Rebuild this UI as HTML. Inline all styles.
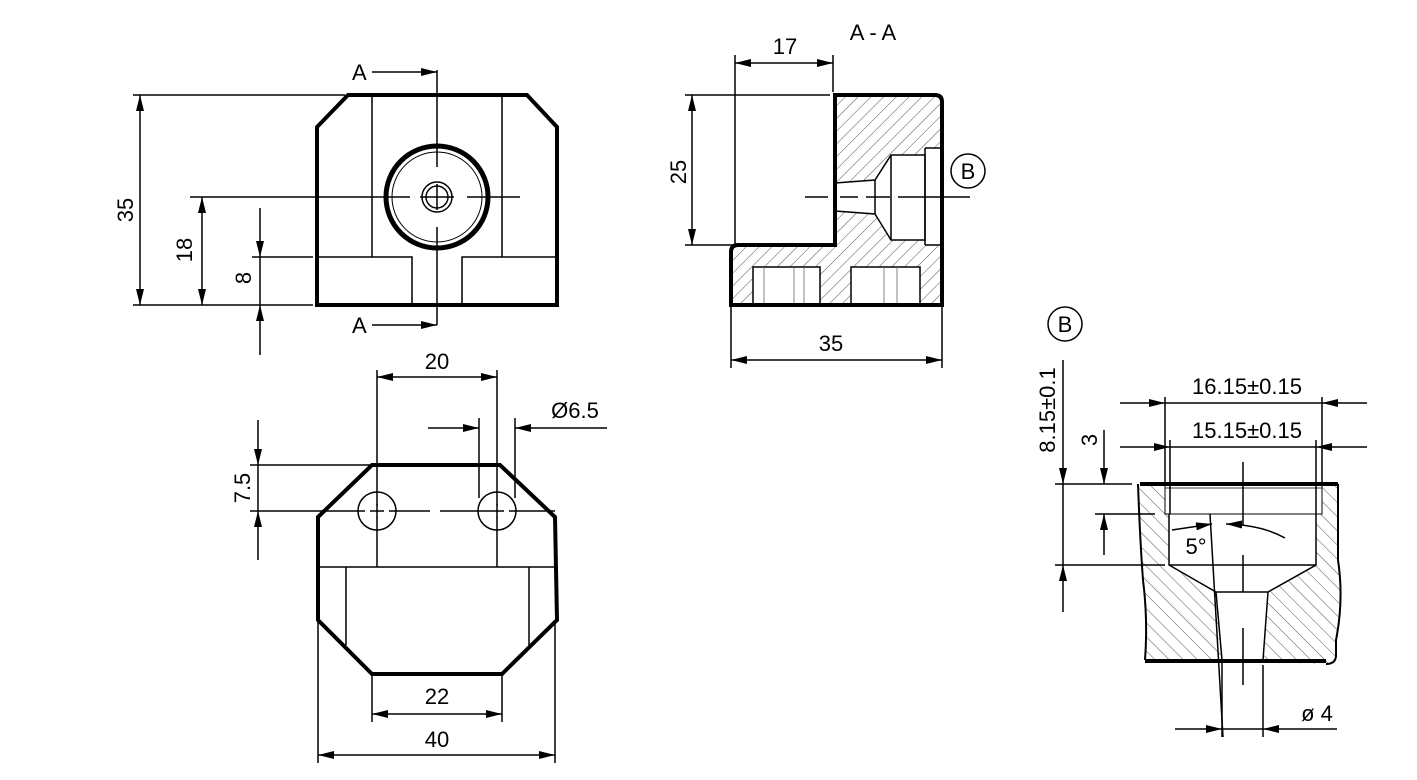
<!DOCTYPE html>
<html><head><meta charset="utf-8"><style>
html,body{margin:0;padding:0;background:#fff;}
svg{display:block;}
text{font-family:"Liberation Sans",sans-serif;font-size:22px;fill:#000;}
</style></head><body>
<svg width="1417" height="780" viewBox="0 0 1417 780" xmlns="http://www.w3.org/2000/svg">
<defs>
<marker id="a" viewBox="0 0 16 8" refX="16" refY="4" markerWidth="16" markerHeight="8" markerUnits="userSpaceOnUse" orient="auto-start-reverse"><path d="M0,0 L16,4 L0,8 z" fill="#000"/></marker>
<pattern id="h1" patternUnits="userSpaceOnUse" width="9" height="9" patternTransform="rotate(45)"><line x1="0" y1="0" x2="0" y2="9" stroke="#555" stroke-width="1"/></pattern>
<pattern id="h2" patternUnits="userSpaceOnUse" width="10" height="10" patternTransform="rotate(-45)"><line x1="0" y1="0" x2="0" y2="10" stroke="#555" stroke-width="1"/></pattern>
</defs>
<g stroke="#000" fill="none" stroke-width="1.5">

<!-- TOP LEFT VIEW -->
<path d="M348,95 L527,95 L557,127 L557,305 L317,305 L317,127 Z" stroke-width="4"/>
<line x1="372" y1="95" x2="372" y2="257"/><line x1="502" y1="95" x2="502" y2="257"/>
<path d="M317,257 H412 V305 M557,257 H462 V305"/>
<circle cx="437" cy="197" r="51" stroke-width="5"/>
<circle cx="437" cy="197" r="45" stroke-width="1"/>
<circle cx="437" cy="197" r="15"/><circle cx="437" cy="197" r="11"/>
<line x1="437" y1="70" x2="437" y2="167"/><line x1="437" y1="227" x2="437" y2="325"/>
<line x1="437" y1="184" x2="437" y2="210"/>
<line x1="190" y1="197" x2="410" y2="197"/><line x1="420" y1="197" x2="454" y2="197"/><line x1="467" y1="197" x2="520" y2="197"/>
<line x1="372" y1="72" x2="437" y2="72" marker-end="url(#a)"/>
<line x1="372" y1="325" x2="437" y2="325" marker-end="url(#a)"/>
<line x1="133" y1="95" x2="345" y2="95"/><line x1="133" y1="305" x2="313" y2="305"/>
<line x1="140" y1="95" x2="140" y2="305" marker-start="url(#a)" marker-end="url(#a)"/>
<line x1="202" y1="197" x2="202" y2="305" marker-start="url(#a)" marker-end="url(#a)"/>
<line x1="252" y1="257" x2="313" y2="257"/>
<line x1="260" y1="208" x2="260" y2="257" marker-end="url(#a)"/>
<line x1="260" y1="355" x2="260" y2="305" marker-end="url(#a)"/>
<line x1="260" y1="257" x2="260" y2="305"/>

<!-- SECTION A-A -->
<path d="M835,95 L935,95 Q942,95 942,102 L942,305 L731,305 L731,252 Q731,245 738,245 L835,245 Z" fill="url(#h1)"/>
<path d="M835,183 L875,180 L891,155 L925,155 L925,148 L940,148 L940,245 L925,245 L925,240 L891,240 L875,214 L835,211 Z" fill="#fff" stroke="none"/>
<path d="M835,183 L875,180 L891,155 L925,155 L925,240 L891,240 L875,214 L835,211"/>
<path d="M925,148 L940,148 M925,245 L940,245 M925,148 V245 M891,155 V240 M875,180 V214"/>
<rect x="753" y="267" width="67" height="38" fill="#fff"/>
<rect x="851" y="267" width="69" height="38" fill="#fff"/>
<g stroke-width="0.8" stroke="#666"><line x1="764" y1="267" x2="764" y2="305"/><line x1="794" y1="267" x2="794" y2="305"/><line x1="804" y1="267" x2="804" y2="305"/><line x1="884" y1="267" x2="884" y2="305"/><line x1="897" y1="267" x2="897" y2="305"/></g>
<path d="M835,95 L935,95 Q942,95 942,102 L942,305 L731,305 L731,252 Q731,245 738,245 L835,245 Z" stroke-width="4"/>
<line x1="805" y1="197" x2="828" y2="197"/><line x1="840" y1="197" x2="858" y2="197"/><line x1="866" y1="197" x2="890" y2="197"/><line x1="898" y1="197" x2="970" y2="197"/>
<circle cx="968" cy="171" r="17"/>
<line x1="735" y1="55" x2="735" y2="245"/><line x1="833" y1="55" x2="833" y2="92"/>
<line x1="735" y1="63" x2="833" y2="63" marker-start="url(#a)" marker-end="url(#a)"/>
<line x1="685" y1="95" x2="830" y2="95"/><line x1="685" y1="245" x2="735" y2="245"/>
<line x1="692" y1="95" x2="692" y2="245" marker-start="url(#a)" marker-end="url(#a)"/>
<line x1="731" y1="305" x2="731" y2="368"/><line x1="942" y1="305" x2="942" y2="368"/>
<line x1="731" y1="360" x2="942" y2="360" marker-start="url(#a)" marker-end="url(#a)"/>

<!-- BOTTOM VIEW -->
<path d="M372,465 L500,465 L555,517 L557,620 L502,674 L372,674 L318,620 L318,517 Z" stroke-width="4"/>
<line x1="318" y1="567" x2="557" y2="567"/>
<line x1="346" y1="567" x2="346" y2="645"/><line x1="529" y1="567" x2="529" y2="645"/>
<circle cx="377" cy="511" r="19"/><circle cx="497" cy="511" r="19"/>
<line x1="300" y1="511" x2="365" y2="511"/><line x1="370" y1="511" x2="384" y2="511"/><line x1="389" y1="511" x2="430" y2="511"/><line x1="440" y1="511" x2="490" y2="511"/><line x1="490" y1="511" x2="504" y2="511"/><line x1="509" y1="511" x2="555" y2="511"/>
<line x1="377" y1="370" x2="377" y2="505"/><line x1="377" y1="504" x2="377" y2="518"/><line x1="377" y1="517" x2="377" y2="567"/>
<line x1="497" y1="370" x2="497" y2="505"/><line x1="497" y1="504" x2="497" y2="518"/><line x1="497" y1="517" x2="497" y2="567"/>
<line x1="377" y1="377" x2="497" y2="377" marker-start="url(#a)" marker-end="url(#a)"/>
<line x1="479" y1="418" x2="479" y2="498"/><line x1="515" y1="418" x2="515" y2="498"/>
<line x1="428" y1="428" x2="479" y2="428" marker-end="url(#a)"/>
<line x1="607" y1="428" x2="515" y2="428" marker-end="url(#a)"/>
<line x1="250" y1="465" x2="370" y2="465"/><line x1="250" y1="511" x2="300" y2="511"/>
<line x1="258" y1="420" x2="258" y2="465" marker-end="url(#a)"/>
<line x1="258" y1="560" x2="258" y2="511" marker-end="url(#a)"/>
<line x1="258" y1="465" x2="258" y2="511"/>
<line x1="372" y1="676" x2="372" y2="722"/><line x1="502" y1="676" x2="502" y2="722"/>
<line x1="372" y1="714" x2="502" y2="714" marker-start="url(#a)" marker-end="url(#a)"/>
<line x1="318" y1="622" x2="318" y2="763"/><line x1="555" y1="622" x2="555" y2="763"/>
<line x1="318" y1="755" x2="555" y2="755" marker-start="url(#a)" marker-end="url(#a)"/>

<!-- DETAIL B -->
<circle cx="1065" cy="324" r="17"/>
<path d="M1140,484 L1338,484 L1338,560 Q1344,600 1336,640 L1336,655 Q1336,664 1326,664 L1145,660 Q1148,620 1143,580 Q1140,540 1138,500 Z" fill="url(#h2)" stroke="none"/>
<path d="M1165,484 L1322,484 L1322,514 L1316,514 L1316,565 L1268,592 L1263,660 L1222,660 L1216,592 L1169,565 L1169,514 L1165,514 Z" fill="#fff" stroke="none"/>
<path d="M1138,484 Q1140,540 1143,580 Q1148,620 1145,660" stroke-width="2"/>
<path d="M1338,484 L1338,560 Q1344,600 1336,640 L1336,655 Q1336,664 1326,664" stroke-width="2"/>
<line x1="1140" y1="484" x2="1338" y2="484" stroke-width="4"/>
<line x1="1145" y1="661" x2="1326" y2="661" stroke-width="4"/>
<path d="M1165,484 V514 H1322 V484" stroke-width="1"/>
<line x1="1165" y1="488" x2="1322" y2="488" stroke-width="0.8"/>
<path d="M1169,514 V565 L1216,592 H1268 L1316,565 V514"/>
<line x1="1169" y1="565" x2="1316" y2="565"/>
<path d="M1216,592 L1222,660 M1268,592 L1263,660"/>
<line x1="1210" y1="514" x2="1223" y2="737"/>
<line x1="1243" y1="462" x2="1243" y2="525"/><line x1="1243" y1="555" x2="1243" y2="592"/><line x1="1243" y1="628" x2="1243" y2="685"/>
<line x1="1165" y1="397" x2="1165" y2="484"/><line x1="1322" y1="397" x2="1322" y2="484"/>
<line x1="1170" y1="440" x2="1170" y2="514"/><line x1="1316" y1="440" x2="1316" y2="514"/>
<line x1="1120" y1="403" x2="1165" y2="403" marker-end="url(#a)"/><line x1="1367" y1="403" x2="1322" y2="403" marker-end="url(#a)"/><line x1="1165" y1="403" x2="1322" y2="403"/>
<line x1="1120" y1="447" x2="1170" y2="447" marker-end="url(#a)"/><line x1="1367" y1="447" x2="1316" y2="447" marker-end="url(#a)"/><line x1="1170" y1="447" x2="1316" y2="447"/>
<line x1="1055" y1="484" x2="1132" y2="484"/><line x1="1095" y1="514" x2="1155" y2="514"/><line x1="1055" y1="565" x2="1165" y2="565"/>
<line x1="1063" y1="360" x2="1063" y2="484" marker-end="url(#a)"/>
<line x1="1063" y1="612" x2="1063" y2="565" marker-end="url(#a)"/>
<line x1="1063" y1="484" x2="1063" y2="565"/>
<line x1="1104" y1="430" x2="1104" y2="484" marker-end="url(#a)"/>
<line x1="1104" y1="555" x2="1104" y2="514" marker-end="url(#a)"/>
<line x1="1172" y1="530" x2="1212" y2="524" marker-end="url(#a)"/>
<path d="M1285,538 Q1262,525 1226,524" marker-end="url(#a)"/>
<line x1="1222" y1="662" x2="1222" y2="737"/><line x1="1263" y1="665" x2="1263" y2="737"/>
<line x1="1175" y1="729" x2="1222" y2="729" marker-end="url(#a)"/><line x1="1337" y1="729" x2="1263" y2="729" marker-end="url(#a)"/><line x1="1222" y1="729" x2="1263" y2="729"/>
</g>

<g>
<text x="352" y="80">A</text>
<text x="352" y="333">A</text>
<text transform="translate(133,210) rotate(-90)" text-anchor="middle">35</text>
<text transform="translate(192,250) rotate(-90)" text-anchor="middle">18</text>
<text transform="translate(251,278) rotate(-90)" text-anchor="middle">8</text>
<text x="785" y="54" text-anchor="middle">17</text>
<text x="873" y="40" text-anchor="middle">A - A</text>
<text transform="translate(686,172) rotate(-90)" text-anchor="middle">25</text>
<text x="831" y="351" text-anchor="middle">35</text>
<text x="968" y="179" text-anchor="middle">B</text>
<text x="437" y="369" text-anchor="middle">20</text>
<text x="575" y="418" text-anchor="middle">Ø6.5</text>
<text transform="translate(250,488) rotate(-90)" text-anchor="middle">7.5</text>
<text x="437" y="704" text-anchor="middle">22</text>
<text x="437" y="747" text-anchor="middle">40</text>
<text x="1065" y="332" text-anchor="middle">B</text>
<text x="1247" y="394" text-anchor="middle">16.15±0.15</text>
<text x="1247" y="438" text-anchor="middle">15.15±0.15</text>
<text transform="translate(1055,410) rotate(-90)" text-anchor="middle">8.15±0.1</text>
<text transform="translate(1097,440) rotate(-90)" text-anchor="middle">3</text>
<text x="1196" y="554" text-anchor="middle">5°</text>
<text x="1317" y="721" text-anchor="middle">ø 4</text>
</g>
</svg>
</body></html>
